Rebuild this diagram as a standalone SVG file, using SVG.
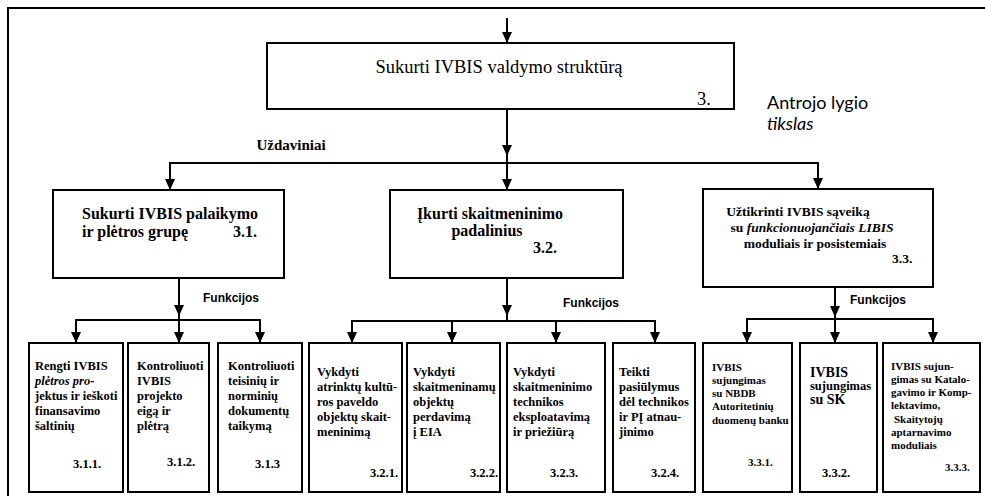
<svg xmlns="http://www.w3.org/2000/svg" width="985" height="496" viewBox="0 0 985 496">
  <style>
    .box { fill: #fff; stroke: #000; stroke-width: 2; }
    .ln { fill: none; stroke: #000; stroke-width: 2; }
    .ah { fill: #000; }
    .t0 { font-family: "Liberation Serif", serif; font-size: 18.5px; fill: #000; }
    .t1 { font-family: "Liberation Serif", serif; font-size: 16px; font-weight: bold; fill: #000; }
    .t1s { font-family: "Liberation Serif", serif; font-size: 13.5px; font-weight: bold; fill: #000; }
    .t2 { font-family: "Liberation Serif", serif; font-size: 12.5px; font-weight: bold; fill: #000; }
    .t3 { font-family: "Liberation Serif", serif; font-size: 11px; font-weight: bold; fill: #000; }
    .t4 { font-family: "Liberation Serif", serif; font-size: 14px; font-weight: bold; fill: #000; }
    .lab { font-family: "Liberation Sans", sans-serif; font-size: 12px; font-weight: bold; fill: #000; }
    .side { font-family: "Lato", "Liberation Sans", sans-serif; font-size: 18px; fill: #000; }
    .it { font-style: italic; }
    .c { text-anchor: middle; }
    .r { text-anchor: end; }
  </style>
  <defs>
    <polygon id="arr" class="ah" points="-5,-11 5,-11 0,0"/>
  </defs>

  <!-- outer frame (top and left edges) -->
  <path class="ln" d="M8,496 V8 H985"/>

  <!-- connectors -->
  <g id="connectors">
    <!-- into the goal -->
    <line class="ln" x1="507" y1="18" x2="507" y2="42"/>
    <use href="#arr" x="507" y="43"/>
    <!-- goal to tasks -->
    <line class="ln" x1="507" y1="109" x2="507" y2="163"/>
    <use href="#arr" x="507" y="156"/>
    <path class="ln" d="M170,189 V163 H818 V189"/>
    <line class="ln" x1="507" y1="163" x2="507" y2="189"/>
    <use href="#arr" x="170" y="190"/>
    <use href="#arr" x="507" y="190"/>
    <use href="#arr" x="818" y="189"/>
    <!-- 3.1 functions -->
    <line class="ln" x1="179" y1="278" x2="179" y2="342"/>
    <use href="#arr" x="179" y="316"/>
    <path class="ln" d="M76,342 V320 H260 V342"/>
    <use href="#arr" x="76" y="343"/>
    <use href="#arr" x="179" y="343"/>
    <use href="#arr" x="260" y="343"/>
    <!-- 3.2 functions -->
    <line class="ln" x1="507" y1="278" x2="507" y2="321"/>
    <use href="#arr" x="507" y="316"/>
    <path class="ln" d="M352,342 V321 H655 V342"/>
    <line class="ln" x1="452" y1="321" x2="452" y2="342"/>
    <line class="ln" x1="556" y1="321" x2="556" y2="342"/>
    <use href="#arr" x="352" y="343"/>
    <use href="#arr" x="452" y="343"/>
    <use href="#arr" x="556" y="343"/>
    <use href="#arr" x="655" y="343"/>
    <!-- 3.3 functions -->
    <line class="ln" x1="835" y1="287" x2="835" y2="342"/>
    <use href="#arr" x="835" y="317"/>
    <path class="ln" d="M747,342 V319 H933 V342"/>
    <use href="#arr" x="747" y="343"/>
    <use href="#arr" x="835" y="343"/>
    <use href="#arr" x="933" y="343"/>
  </g>

  <!-- labels on connectors -->
  <text class="t1s" x="291" y="150" text-anchor="middle" style="font-size:15px">Uždaviniai</text>
  <text class="lab" x="203" y="302">Funkcijos</text>
  <text class="lab" x="563" y="307">Funkcijos</text>
  <text class="lab" x="850" y="304">Funkcijos</text>
  <text class="side" x="767" y="109">Antrojo lygio</text>
  <text class="side it" x="767" y="130">tikslas</text>

  <!-- second-level goal -->
  <g id="n3">
    <rect class="box" x="267" y="43" width="467" height="66"/>
    <text class="t0 c" x="499" y="73">Sukurti IVBIS valdymo struktūrą</text>
    <text class="t0" x="697" y="105">3.</text>
  </g>

  <!-- tasks -->
  <g id="n3-1">
    <rect class="box" x="53" y="190" width="231" height="88"/>
    <text class="t1" x="82" y="219">Sukurti IVBIS palaikymo</text>
    <text class="t1" x="82" y="237">ir plėtros grupę</text>
    <text class="t1" x="233" y="237">3.1.</text>
  </g>
  <g id="n3-2">
    <rect class="box" x="390" y="190" width="233" height="88"/>
    <text class="t1 c" x="490" y="219">Įkurti skaitmeninimo</text>
    <text class="t1 c" x="487" y="236">padalinius</text>
    <text class="t1" x="533" y="253">3.2.</text>
  </g>
  <g id="n3-3">
    <rect class="box" x="703" y="189" width="230" height="98"/>
    <text class="t1s c" x="798" y="216">Užtikrinti IVBIS sąveiką</text>
    <text class="t1s c" x="812" y="232"><tspan>su </tspan><tspan class="it">funkcionuojančiais LIBIS</tspan></text>
    <text class="t1s c" x="815" y="248">moduliais  ir  posistemiais</text>
    <text class="t1s" x="892" y="263">3.3.</text>
  </g>

  <!-- functions of 3.1 -->
  <g id="n3-1-1">
    <rect class="box" x="29" y="343" width="94" height="149"/>
    <text class="t2" x="35" y="370">Rengti IVBIS</text>
    <text class="t2 it" x="35" y="385">plėtros pro-</text>
    <text class="t2" x="35" y="400">jektus ir ieškoti</text>
    <text class="t2" x="35" y="415">finansavimo</text>
    <text class="t2" x="35" y="430">šaltinių</text>
    <text class="t2" x="73" y="468">3.1.1.</text>
  </g>
  <g id="n3-1-2">
    <rect class="box" x="128" y="343" width="81" height="149"/>
    <text class="t2" x="137" y="370">Kontroliuoti</text>
    <text class="t2" x="137" y="385">IVBIS</text>
    <text class="t2" x="137" y="400">projekto</text>
    <text class="t2" x="137" y="415">eigą ir</text>
    <text class="t2" x="137" y="430">plėtrą</text>
    <text class="t2" x="167" y="466">3.1.2.</text>
  </g>
  <g id="n3-1-3">
    <rect class="box" x="218" y="343" width="84" height="149"/>
    <text class="t2" x="228" y="370">Kontroliuoti</text>
    <text class="t2" x="228" y="385">teisinių ir</text>
    <text class="t2" x="228" y="400">norminių</text>
    <text class="t2" x="228" y="415">dokumentų</text>
    <text class="t2" x="228" y="430">taikymą</text>
    <text class="t2" x="255" y="468">3.1.3</text>
  </g>

  <!-- functions of 3.2 -->
  <g id="n3-2-1">
    <rect class="box" x="309" y="343" width="93" height="149"/>
    <text class="t2" x="317" y="376">Vykdyti</text>
    <text class="t2" x="317" y="391">atrinktų kultū-</text>
    <text class="t2" x="317" y="406">ros paveldo</text>
    <text class="t2" x="317" y="421">objektų skait-</text>
    <text class="t2" x="317" y="436">meninimą</text>
    <text class="t2 r" x="398" y="477">3.2.1.</text>
  </g>
  <g id="n3-2-2">
    <rect class="box" x="407" y="343" width="93" height="149"/>
    <text class="t2" x="413" y="376">Vykdyti</text>
    <text class="t2" x="413" y="391">skaitmeninamų</text>
    <text class="t2" x="413" y="406">objektų</text>
    <text class="t2" x="413" y="421">perdavimą</text>
    <text class="t2" x="413" y="436">į EIA</text>
    <text class="t2 r" x="498" y="477">3.2.2.</text>
  </g>
  <g id="n3-2-3">
    <rect class="box" x="507" y="343" width="98" height="149"/>
    <text class="t2" x="513" y="376">Vykdyti</text>
    <text class="t2" x="513" y="391">skaitmeninimo</text>
    <text class="t2" x="513" y="406">technikos</text>
    <text class="t2" x="513" y="421">eksploatavimą</text>
    <text class="t2" x="513" y="436">ir priežiūrą</text>
    <text class="t2" x="550" y="477">3.2.3.</text>
  </g>
  <g id="n3-2-4">
    <rect class="box" x="613" y="343" width="82" height="149"/>
    <text class="t2" x="619" y="376">Teikti</text>
    <text class="t2" x="619" y="391">pasiūlymus</text>
    <text class="t2" x="619" y="406">dėl technikos</text>
    <text class="t2" x="619" y="421">ir PĮ atnau-</text>
    <text class="t2" x="619" y="436">jinimo</text>
    <text class="t2" x="651" y="477">3.2.4.</text>
  </g>

  <!-- functions of 3.3 -->
  <g id="n3-3-1">
    <rect class="box" x="703" y="343" width="89" height="149"/>
    <text class="t3" x="712" y="371">IVBIS</text>
    <text class="t3" x="712" y="384">sujungimas</text>
    <text class="t3" x="712" y="397">su NBDB</text>
    <text class="t3" x="712" y="410">Autoritetinių</text>
    <text class="t3" x="712" y="424">duomenų banku</text>
    <text class="t3" x="748" y="466">3.3.1.</text>
  </g>
  <g id="n3-3-2">
    <rect class="box" x="800" y="343" width="77" height="149"/>
    <text class="t4" x="810" y="377">IVBIS</text>
    <text class="t2" x="810" y="390">sujungimas</text>
    <text class="t4" x="810" y="404">su  SK</text>
    <text class="t2" x="822" y="477">3.3.2.</text>
  </g>
  <g id="n3-3-3">
    <rect class="box" x="883" y="343" width="97" height="149"/>
    <text class="t3" x="891" y="370">IVBIS sujun-</text>
    <text class="t3" x="891" y="383">gimas su Katalo-</text>
    <text class="t3" x="891" y="396">gavimo ir Komp-</text>
    <text class="t3" x="891" y="409">lektavimo,</text>
    <text class="t3" x="894" y="423">Skaitytojų</text>
    <text class="t3" x="891" y="436">aptarnavimo</text>
    <text class="t3" x="891" y="449">moduliais</text>
    <text class="t3" x="945" y="471">3.3.3.</text>
  </g>
</svg>
